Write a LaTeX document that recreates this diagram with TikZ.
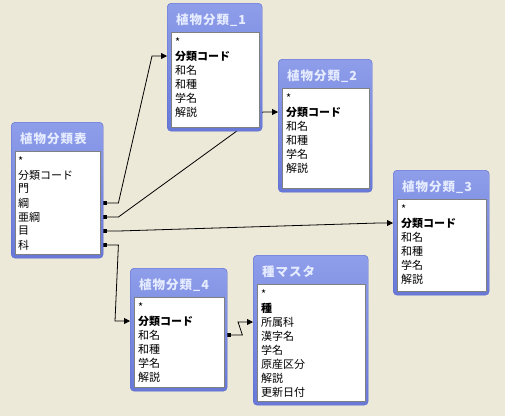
\documentclass[tikz,border=0pt]{standalone}
\usepackage{fontspec}
\newfontfamily\jp{Noto Sans CJK JP}
\newfontfamily\jpttl{Noto Sans CJK JP}[LetterSpace=8]
\usetikzlibrary{arrows.meta,calc}
\pgfdeclarelayer{back}
\pgfsetlayers{back,main}
\definecolor{desk}{RGB}{236,233,216}
\definecolor{frmtop}{RGB}{142,158,234}
\definecolor{frmbot}{RGB}{104,120,216}
\definecolor{frmline}{RGB}{90,106,204}
\definecolor{ttltxt}{RGB}{230,236,255}
\definecolor{listline}{RGB}{128,128,128}

\begin{document}
\begin{tikzpicture}[
  x=1pt, y=-1pt,
  frame/.style={rectangle, rounded corners=4pt, anchor=north west, draw=frmline,
    top color=frmtop, bottom color=frmbot, inner sep=0pt},
  list/.style={fill=white, draw=listline, line width=0.8pt},
  ttl/.style={anchor=west, inner sep=0pt, text=ttltxt,
    font={\jpttl\bfseries\fontsize{12.5pt}{14pt}\selectfont}},
  fld/.style={anchor=west, inner sep=0pt, font={\jp\fontsize{11pt}{13pt}\selectfont}},
  rel/.style={line width=0.8pt, {Square[length=3pt,width=4pt]}-{Triangle[length=6pt,width=6pt]}}
]
  \useasboundingbox (0,0) rectangle (505,416);

  % tables
  \node[frame, minimum width=92pt, minimum height=136pt] (hyo) at (11,122) {};
  \node[frame, minimum width=95pt, minimum height=128pt] (bun1) at (167,3) {};
  \node[frame, minimum width=94pt, minimum height=133pt] (bun2) at (278,59) {};
  \node[frame, minimum width=96pt, minimum height=125pt] (bun3) at (393,170) {};
  \node[frame, minimum width=97pt, minimum height=123pt] (bun4) at (130,268) {};
  \node[frame, minimum width=115pt, minimum height=150pt] (shu) at (253,255) {};

  \foreach \t in {hyo, bun1, bun2, bun3, bun4, shu}
    \draw[list] ([xshift=4.5pt, yshift=-29pt]\t.north west) rectangle ([xshift=-3.5pt, yshift=4.5pt]\t.south east);

  \node[ttl] (hyo-t) at ([xshift=9pt, yshift=-17pt]hyo.north west) {植物分類表};
  \node[ttl] (bun1-t) at ([xshift=9pt, yshift=-17pt]bun1.north west) {植物分類\_1};
  \node[ttl] (bun2-t) at ([xshift=9pt, yshift=-17pt]bun2.north west) {植物分類\_2};
  \node[ttl] (bun3-t) at ([xshift=9pt, yshift=-17pt]bun3.north west) {植物分類\_3};
  \node[ttl] (bun4-t) at ([xshift=9pt, yshift=-17pt]bun4.north west) {植物分類\_4};
  \node[ttl] (shu-t) at ([xshift=9pt, yshift=-17pt]shu.north west) {種マスタ};

  % fields
  \foreach \f [count=\i] in {*, 分類コード, 門, 綱, 亜綱, 目, 科}
    \node[fld] (hyo-\i) at ([xshift=7pt, yshift={-25pt-14pt*\i}]hyo.north west) {\f};
  \foreach \t in {bun1, bun2, bun3, bun4}
    \foreach \f [count=\i] in {*, {\textbf{分類コード}}, 和名, 和種, 学名, 解説}
      \node[fld] (\t-\i) at ([xshift=8pt, yshift={-25pt-14pt*\i}]\t.north west) {\f};
  \foreach \f [count=\i] in {*, {\textbf{種}}, 所属科, 漢字名, 学名, 原産区分, 解説, 更新日付}
    \node[fld] (shu-\i) at ([xshift=8pt, yshift={-25pt-14pt*\i}]shu.north west) {\f};

  % relations
  \begin{pgfonlayer}{back}
    \fill[desk] (0,0) rectangle (505,416);
    \draw[rel] (hyo-4 -| hyo.east) -- ++(15,0) -- ($(bun1-2 -| bun1.west)+(-15,0)$) -- (bun1-2 -| bun1.west);
    \draw[rel] (hyo-5 -| hyo.east) -- ++(15,0) -- ($(bun2-2 -| bun2.west)+(-15,0)$) -- (bun2-2 -| bun2.west);
    \draw[rel] (hyo-6 -| hyo.east) -- ++(15,0) -- ($(bun3-2 -| bun3.west)+(-15,0)$) -- (bun3-2 -| bun3.west);
    \draw[rel] (hyo-7 -| hyo.east) -- ++(15,0) -- ($(bun4-2 -| bun4.west)+(-15,0)$) -- (bun4-2 -| bun4.west);
    \draw[rel] (bun4-3 -| bun4.east) -- ++(15,0) -- ($(shu-3 -| shu.west)+(-15,0)$) -- (shu-3 -| shu.west);
  \end{pgfonlayer}
\end{tikzpicture}
\end{document}
